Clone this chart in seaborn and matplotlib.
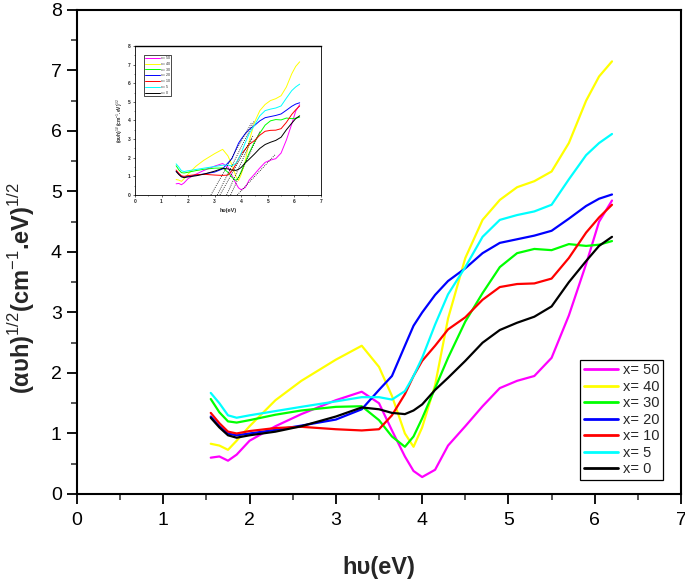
import numpy as np
import pandas as pd
import seaborn as sns
import matplotlib
matplotlib.use("Agg")
import matplotlib.pyplot as plt
from matplotlib.ticker import MultipleLocator

# -------------------------
# data
# -------------------------
energy = [1.55, 1.65, 1.75, 1.85, 2.0, 2.3, 2.6, 3.0, 3.3, 3.5, 3.65, 3.8, 3.9,
          4.0, 4.15, 4.3, 4.5, 4.7, 4.9, 5.1, 5.3, 5.5, 5.7, 5.9, 6.05, 6.2]

y_50 = [0.60, 0.62, 0.55, 0.65, 0.88, 1.12, 1.32, 1.55, 1.69, 1.50, 1.05, 0.62, 0.38,
        0.28, 0.40, 0.80, 1.12, 1.45, 1.75, 1.87, 1.95, 2.25, 2.95, 3.80, 4.50, 4.85]
y_40 = [0.83, 0.80, 0.73, 0.88, 1.12, 1.55, 1.87, 2.22, 2.45, 2.10, 1.62, 1.00, 0.78,
        1.10, 1.80, 2.90, 3.90, 4.53, 4.86, 5.07, 5.17, 5.33, 5.80, 6.50, 6.90, 7.15]
y_30 = [1.57, 1.35, 1.20, 1.18, 1.22, 1.31, 1.38, 1.44, 1.45, 1.22, 0.95, 0.78, 0.95,
        1.25, 1.75, 2.25, 2.85, 3.32, 3.75, 3.98, 4.05, 4.03, 4.13, 4.10, 4.12, 4.18]
y_20 = [1.28, 1.12, 1.00, 0.97, 1.00, 1.06, 1.13, 1.23, 1.40, 1.72, 1.95, 2.45, 2.78,
        3.00, 3.29, 3.52, 3.73, 3.98, 4.15, 4.21, 4.27, 4.35, 4.55, 4.76, 4.88, 4.95]
y_10 = [1.34, 1.17, 1.03, 1.00, 1.04, 1.09, 1.11, 1.07, 1.05, 1.07, 1.30, 1.65, 1.95,
        2.20, 2.45, 2.72, 2.92, 3.21, 3.42, 3.47, 3.48, 3.56, 3.90, 4.32, 4.57, 4.78]
y_5 = [1.67, 1.50, 1.30, 1.26, 1.30, 1.37, 1.44, 1.53, 1.60, 1.60, 1.56, 1.70, 1.95,
       2.25, 2.80, 3.30, 3.75, 4.25, 4.53, 4.61, 4.67, 4.78, 5.20, 5.60, 5.80, 5.95]
y_0 = [1.26, 1.10, 0.97, 0.93, 0.97, 1.03, 1.12, 1.28, 1.43, 1.40, 1.34, 1.32, 1.38,
       1.48, 1.72, 1.92, 2.20, 2.50, 2.71, 2.83, 2.93, 3.10, 3.50, 3.85, 4.10, 4.25]

labels = ["x= 50", "x= 40", "x= 30", "x= 20", "x= 10", "x= 5", "x= 0"]
colors = ["#FF00FF", "#FFFF00", "#00FF00", "#0000FF", "#FF0000", "#00FFFF", "#000000"]
series = [y_50, y_40, y_30, y_20, y_10, y_5, y_0]

# tangent (Tauc) extrapolation lines of the inset: x-intercept -> end point
tan_x0 = [2.86, 3.10, 3.20, 3.45, 3.60, 3.85]
tan_x1 = [4.40, 4.50, 4.45, 4.40, 4.70, 5.30]
tan_y1 = [3.90, 4.00, 3.20, 3.00, 3.40, 2.20]

df = pd.DataFrame({
    "E": energy * len(series),
    "val": sum(series, []),
    "sample": [lab for lab in labels for _ in energy],
})

sns.set_style("ticks")
plt.rcParams["font.family"] = ["Liberation Sans", "DejaVu Sans"]
plt.rcParams["mathtext.fontset"] = "custom"
plt.rcParams["mathtext.rm"] = "Liberation Sans"
plt.rcParams["mathtext.bf"] = "Liberation Sans:bold"

fig = plt.figure(figsize=(6.85, 5.85), dpi=100)
ax = fig.add_axes([0.1124, 0.1556, 0.8818, 0.8274])

sns.lineplot(data=df, x="E", y="val", hue="sample", hue_order=labels,
             palette=colors, sort=False, estimator=None, linewidth=1.6, ax=ax)

ax.set_xlim(0, 7)
ax.set_ylim(0, 8)
ax.xaxis.set_major_locator(MultipleLocator(1))
ax.xaxis.set_minor_locator(MultipleLocator(0.5))
ax.yaxis.set_major_locator(MultipleLocator(1))
ax.yaxis.set_minor_locator(MultipleLocator(0.5))
ax.tick_params(which="major", direction="out", length=7, width=1.3, labelsize=14,
               top=False, right=False, colors="black")
ax.tick_params(which="minor", direction="out", length=4, width=1.1, top=False, right=False)
ax.tick_params(axis="x", which="major", pad=6)
ax.tick_params(axis="y", which="major", pad=4)
for sp in ax.spines.values():
    sp.set_visible(True)
    sp.set_linewidth(1.5)
    sp.set_color("black")

ax.set_xlabel("hυ(eV)", fontsize=17, fontweight="bold")
ax.xaxis.set_label_coords(0.5, -0.128)
ax.set_ylabel(r"(αυh)$^{1/2}$(cm$^{-1}$.eV)$^{1/2}$", fontsize=17, fontweight="bold")
ax.yaxis.set_label_coords(-0.066, 0.426)

leg = ax.legend(loc="lower right", bbox_to_anchor=(0.970, 0.029), borderaxespad=0,
                fontsize=10.5, handlelength=2.3, handletextpad=0.35, labelspacing=0.17,
                borderpad=0.25, fancybox=False, framealpha=1, edgecolor="black")
leg.get_frame().set_linewidth(0.9)
for ln in leg.get_lines():
    ln.set_linewidth(2.0)

# -------------------------
# inset
# -------------------------
ins = fig.add_axes([0.197, 0.6667, 0.2715, 0.2547])
sns.lineplot(data=df, x="E", y="val", hue="sample", hue_order=labels,
             palette=colors, sort=False, estimator=None, linewidth=0.7, ax=ins)
for x0, x1, y1 in zip(tan_x0, tan_x1, tan_y1):
    ins.plot([x0, x1], [0, y1], color="black", ls=(0, (1, 1.5)), lw=0.6)
ins.set_xlim(0, 7)
ins.set_ylim(0, 8)
ins.xaxis.set_major_locator(MultipleLocator(1))
ins.xaxis.set_minor_locator(MultipleLocator(0.5))
ins.yaxis.set_major_locator(MultipleLocator(1))
ins.yaxis.set_minor_locator(MultipleLocator(0.5))
ins.tick_params(which="major", direction="out", length=1.5, width=0.5, labelsize=3.5, pad=1.5)
ins.tick_params(which="minor", direction="out", length=0.8, width=0.4)
for t in ins.get_xticklabels() + ins.get_yticklabels():
    t.set_fontweight("bold")
for sp in ins.spines.values():
    sp.set_visible(True)
    sp.set_linewidth(0.6)
    sp.set_color("black")
ins.spines["top"].set_linewidth(1.0)
ins.set_xlabel("hυ(eV)", fontsize=4, fontweight="bold", labelpad=3)
ins.set_ylabel(r"(αυh)$^{1/2}$(cm$^{-1}$.eV)$^{1/2}$", fontsize=3.5,
               fontweight="bold", labelpad=2)
ileg = ins.legend(loc="upper left", bbox_to_anchor=(0.05, 0.94), borderaxespad=0,
                  fontsize=2.6, handlelength=4, handletextpad=0.4, labelspacing=0.5,
                  borderpad=0.3, fancybox=False, framealpha=1, edgecolor="black")
ileg.get_frame().set_linewidth(0.5)

fig.savefig("out.png", dpi=100)
